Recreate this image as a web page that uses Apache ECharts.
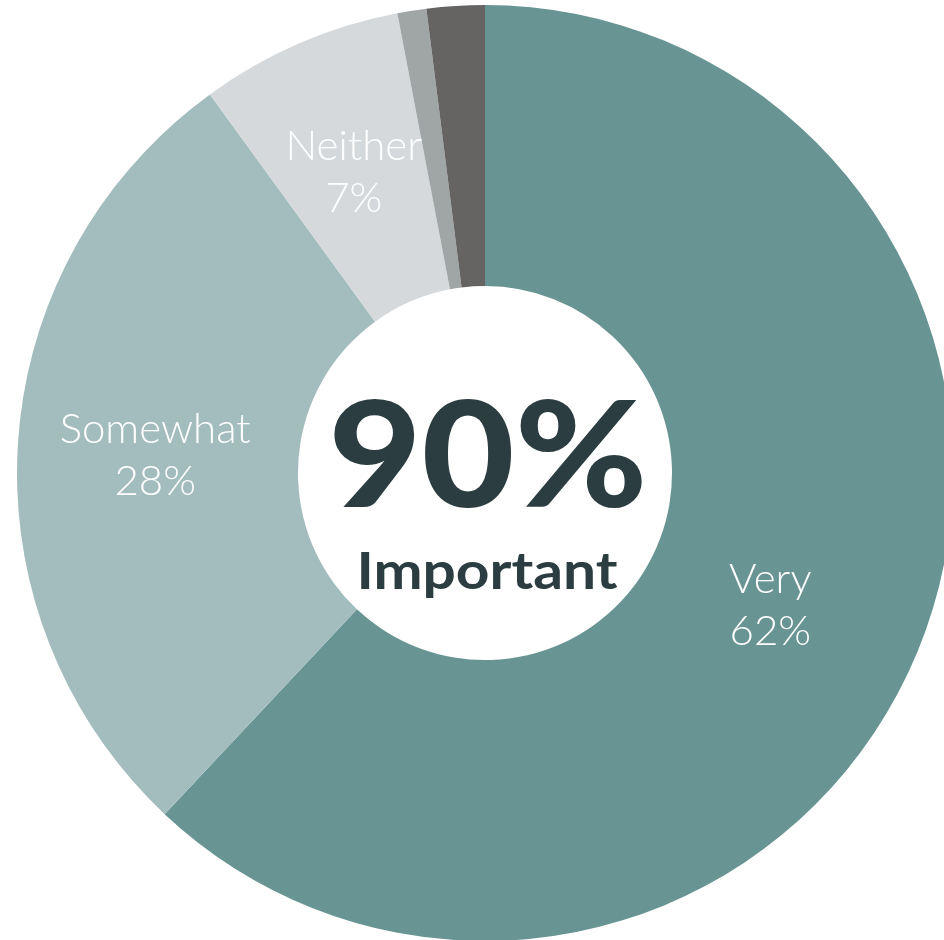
<!DOCTYPE html>
<html>
<head>
<meta charset="utf-8">
<script src="https://cdn.jsdelivr.net/npm/echarts@6/dist/echarts.min.js"></script>
<style>
  html, body { margin: 0; padding: 0; background: #ffffff; }
  #chart { width: 944px; height: 940px; }
</style>
</head>
<body>
<div id="chart"></div>
<script>
// Importance ratings, in percent
const categories = ['Very', 'Somewhat', 'Neither', 'Not very', 'Not at all'];
const values = [62, 28, 7, 1, 2];
const showLabel = [true, true, true, false, false];
const sliceColors = ['#689594', '#a3bdbe', '#d5d9dc', '#a0a5a6', '#656462'];
const centerValue = '90%';
const centerCaption = 'Important';

const labelFont = 'Lato, "Open Sans", sans-serif';

const chart = echarts.init(document.getElementById('chart'), null, { renderer: 'canvas' });

const data = categories.map((name, i) => ({
  name: name,
  value: values[i],
  itemStyle: { color: sliceColors[i] },
  label: Object.assign(
    { show: showLabel[i] },
    name === 'Very' ? { offset: [-22, 11] } : { offset: [0, 3] }
  )
}));

chart.setOption({
  backgroundColor: '#ffffff',
  animation: false,
  series: [{
    type: 'pie',
    center: [485, 473],
    radius: [187, 468],
    startAngle: 90,
    clockwise: true,
    avoidLabelOverlap: false,
    silent: true,
    label: {
      position: 'inside',
      formatter: p => p.name + '\n' + p.value + '%',
      color: '#ffffff',
      fontFamily: labelFont,
      fontWeight: 300,
      fontSize: 42,
      lineHeight: 52,
      align: 'center'
    },
    labelLine: { show: false },
    itemStyle: { borderWidth: 0 },
    emphasis: { disabled: true },
    data: data
  }],
  graphic: [
    {
      type: 'text',
      position: [488, 460],
      scaleX: 1.1,
      style: {
        text: centerValue,
        fill: '#2b3d40',
        font: '900 146px ' + labelFont,
        textAlign: 'center',
        textVerticalAlign: 'middle'
      }
    },
    {
      type: 'text',
      position: [487, 573],
      scaleX: 1.15,
      style: {
        text: centerCaption,
        fill: '#2b3d40',
        font: 'bold 51px ' + labelFont,
        textAlign: 'center',
        textVerticalAlign: 'middle'
      }
    }
  ]
});
</script>
</body>
</html>
